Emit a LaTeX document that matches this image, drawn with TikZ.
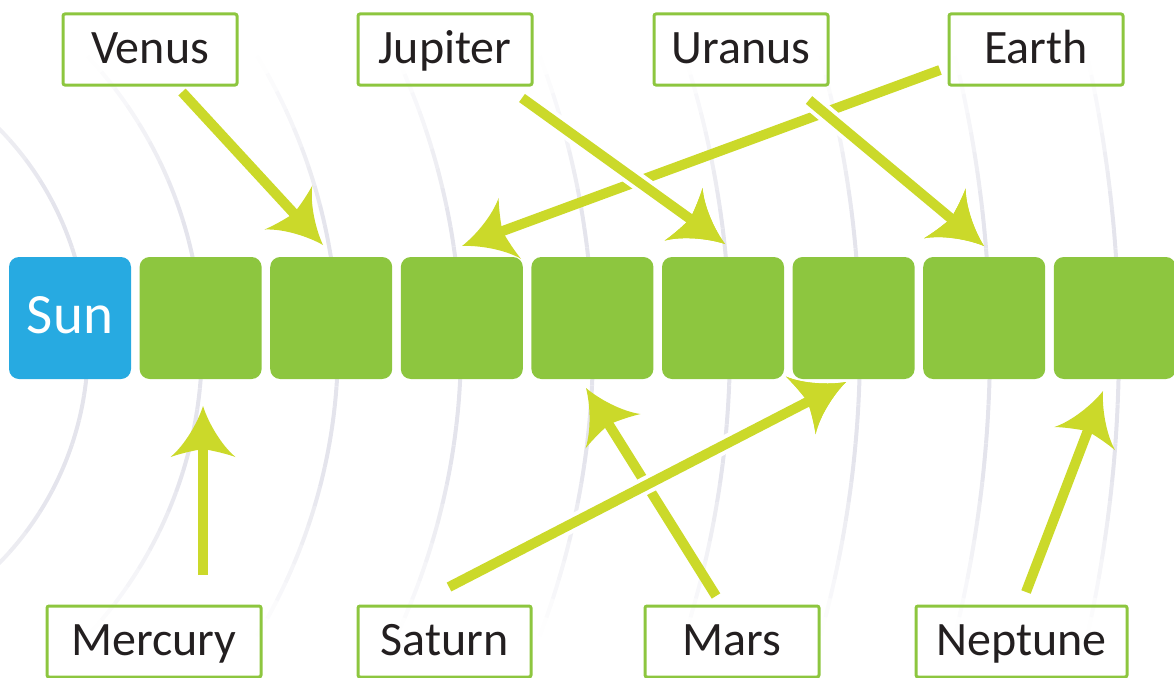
\documentclass[tikz,border=0pt]{standalone}
\usepackage{fontspec}
\setmainfont{Carlito}
\definecolor{sqgreen}{HTML}{8DC63F}
\definecolor{sunblue}{HTML}{27AAE1}
\definecolor{arrowcol}{HTML}{CBD92A}
\definecolor{arccol}{HTML}{E4E4EC}
\definecolor{txt}{HTML}{231F20}

\pgfdeclarearrow{
  name = Swoosh,
  setup code = {
    \pgfarrowssettipend{0pt}
    \pgfarrowssetlineend{-36pt}
    \pgfarrowssetbackend{-51pt}
    \pgfarrowsupperhullpoint{0pt}{0pt}
    \pgfarrowsupperhullpoint{-51pt}{32.5pt}
  },
  drawing code = {
    \pgfsetfillcolor{arrowcol}
    \pgfpathmoveto{\pgfpointorigin}
    \pgfpathcurveto{\pgfpoint{-16pt}{5pt}}{\pgfpoint{-39pt}{18pt}}{\pgfpoint{-51pt}{32.5pt}}
    \pgfpathcurveto{\pgfpoint{-48pt}{24pt}}{\pgfpoint{-45pt}{12pt}}{\pgfpoint{-43pt}{0pt}}
    \pgfpathcurveto{\pgfpoint{-45pt}{-12pt}}{\pgfpoint{-48pt}{-24pt}}{\pgfpoint{-51pt}{-32.5pt}}
    \pgfpathcurveto{\pgfpoint{-39pt}{-18pt}}{\pgfpoint{-16pt}{-5pt}}{\pgfpointorigin}
    \pgfpathclose
    \pgfusepathqfill
  }
}

\begin{document}
\begin{tikzpicture}[x=1pt,y=-1pt,
  lbl/.style={draw=sqgreen, line width=3pt, rounded corners=2pt, minimum height=71pt,
    text=txt, font=\fontsize{48}{48}\selectfont, inner sep=0pt, text height=36pt, text depth=8pt},
  sq/.style={fill=sqgreen, rounded corners=10pt, minimum width=122pt, minimum height=122pt, inner sep=0pt},
  sunsq/.style={sq, fill=sunblue, text=white, font=\fontsize{57}{57}\selectfont, text height=40pt, text depth=10pt},
  conn/.style={draw=arrowcol, line width=10pt, -Swoosh},
  over/.style={preaction={draw=white, line width=18pt}},
  arcline/.style={draw=arccol, line width=4pt}]

\useasboundingbox (0,0) rectangle (1174,677);

% background orbits, fading towards both ends
\coordinate (c) at (-222,346);
\foreach \r in {310,424,560,683,815,952,1082,1212,1341}{
  \pgfmathsetmacro{\a}{min(asin(min(290/\r,1)),72)}
  \foreach \k in {0,...,29}{
    \pgfmathsetmacro{\sa}{-\a+2*\a*\k/30}
    \pgfmathsetmacro{\ea}{-\a+2*\a*(\k+1)/30}
    \pgfmathsetmacro{\op}{min(1,min(\k+0.5,29.5-\k)/30/0.3)}
    \draw[arcline, draw opacity=\op] (c) ++(\sa:\r) arc[start angle=\sa, end angle=\ea, radius=\r];
  }
}

% row of squares
\node[sunsq] (sun) at (70,318) {Sun};
\foreach \i in {1,...,8} \node[sq] (s\i) at ({70+130.6*\i},318) {};

% labels
\node[lbl, minimum width=174pt] (venus) at (150,49.5) {Venus};
\node[lbl, minimum width=174pt] (jupiter) at (445,49.5) {Jupiter};
\node[lbl, minimum width=174pt] (uranus) at (741,49.5) {Uranus};
\node[lbl, minimum width=174pt] (earth) at (1036,49.5) {Earth};
\node[lbl, minimum width=214pt] (mercury) at (154,641.5) {Mercury};
\node[lbl, minimum width=173pt] (saturn) at (444.5,641.5) {Saturn};
\node[lbl, minimum width=174pt] (mars) at (732,641.5) {Mars};
\node[lbl, minimum width=211pt] (neptune) at (1021.5,641.5) {Neptune};

% connector ends
\coordinate (venusA) at (182,92);    \coordinate (venusB) at (323,245);
\coordinate (jupiterA) at (522,98);  \coordinate (jupiterB) at (725,244);
\coordinate (uranusA) at (809,100);  \coordinate (uranusB) at (984,246);
\coordinate (earthA) at (940,70);    \coordinate (earthB) at (462,246);
\coordinate (mercuryA) at (203,575); \coordinate (mercuryB) at (203,406);
\coordinate (saturnA) at (449,587);  \coordinate (saturnB) at (846,382);
\coordinate (marsA) at (716,596);    \coordinate (marsB) at (586,388);
\coordinate (neptuneA) at (1026,592);\coordinate (neptuneB) at (1103,391);

% connectors
\draw[conn] (earthA) -- (earthB);
\draw[conn] (venusA) -- (venusB);
\draw[conn,over] (jupiterA) -- (jupiterB);
\draw[conn,over] (uranusA) -- (uranusB);
\draw[conn] (mercuryA) -- (mercuryB);
\draw[conn] (marsA) -- (marsB);
\draw[conn,over] (saturnA) -- (saturnB);
\draw[conn] (neptuneA) -- (neptuneB);
\end{tikzpicture}
\end{document}
